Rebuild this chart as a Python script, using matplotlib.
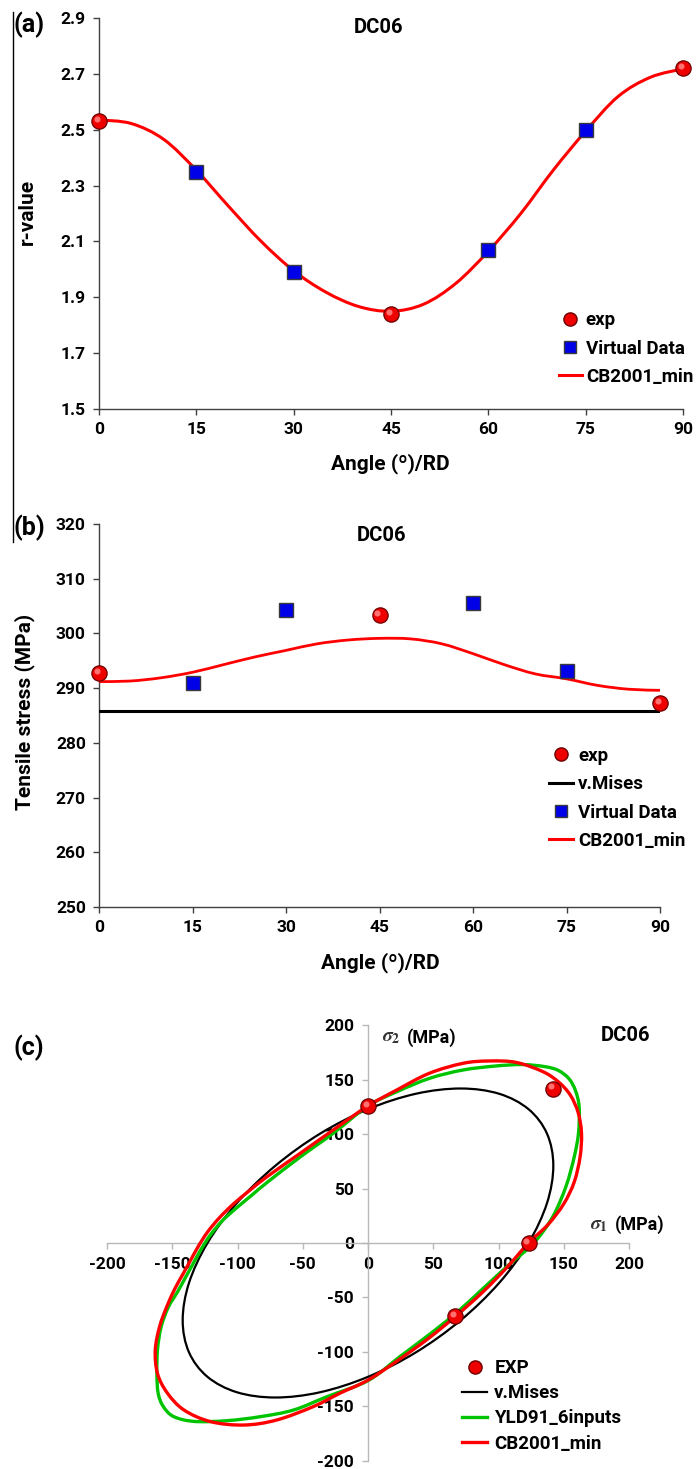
import numpy as np
import matplotlib
matplotlib.use("Agg")
import matplotlib.pyplot as plt
from matplotlib.path import Path
from matplotlib.patches import PathPatch
from matplotlib.lines import Line2D
from matplotlib.transforms import ScaledTranslation

plt.rcParams['font.family'] = ['Roboto', 'DejaVu Sans']
plt.rcParams['font.weight'] = 'bold'
plt.rcParams['mathtext.fontset'] = 'stix'
plt.rcParams['axes.unicode_minus'] = False

# ---------------- data ----------------
# (a) r-value vs angle
r_exp_ang = [0, 45, 90]
r_exp = [2.53, 1.84, 2.72]
r_virt_ang = [15, 30, 60, 75]
r_virt = [2.35, 1.99, 2.07, 2.50]
curve_ang = [0, 5, 10, 15, 20, 25, 30, 35, 40, 45, 50, 55, 60, 65, 70, 75, 80, 85, 90]
r_cb2001 = [2.535, 2.522, 2.465, 2.355, 2.225, 2.10, 1.995, 1.918, 1.867, 1.85,
            1.875, 1.95, 2.065, 2.2, 2.355, 2.495, 2.619, 2.688, 2.718]

# (b) tensile stress vs angle
s_exp_ang = [0, 45, 90]
s_exp = [292.7, 303.3, 287.3]
s_virt_ang = [15, 30, 60, 75]
s_virt = [291.0, 304.3, 305.6, 293.1]
s_mises = 285.8
s_cb2001 = [291.2, 291.3, 291.9, 292.9, 294.3, 295.7, 296.9, 298.1, 298.8, 299.1,
            299.0, 298.1, 296.3, 294.3, 292.6, 291.7, 290.5, 289.8, 289.6]

# (c) yield loci (sigma1, sigma2) in MPa
c_exp_s1 = [0, 142, 123, 67]
c_exp_s2 = [126, 142, 0, -67]
mises_locus = [(123, 0), (137.2, 36.8), (142, 71), (137.2, 100.4), (123, 123), (100.4, 137.2),
               (71, 142), (36.8, 137.2), (0, 123), (-36.7, 100.5), (-71, 71), (-100.5, 36.7),
               (-123, 0), (-137.2, -36.8), (-142, -71), (-137.2, -100.4), (-123, -123),
               (-100.4, -137.2), (-71, -142), (-36.8, -137.2), (0, -123), (36.7, -100.5),
               (71, -71), (100.5, -36.7)]
yld91_locus = [(127, 0), (141.5, 24), (151.7, 52), (158, 79), (161.3, 101), (161.8, 125),
               (159, 140), (154, 151), (146, 158.5), (136, 162), (118.6, 164), (98, 162.7),
               (72.8, 159), (47.3, 151.4), (22, 139), (0, 126), (-26.5, 101), (-52, 79),
               (-77, 56), (-89, 44), (-101, 32), (-112, 20), (-121, 7), (-128, -6),
               (-134, -19), (-140, -32), (-146, -45), (-153, -59), (-158.5, -77),
               (-161.3, -98), (-161.8, -120), (-160.8, -138), (-157, -150), (-149, -159.5),
               (-133, -164), (-108, -163.3), (-82.4, -159.6), (-57, -153.5), (-31.5, -141.3),
               (0, -126.5), (24.4, -104.5), (46, -85), (67, -65), (88, -42), (108, -20)]
cb2001_locus = [(123, 0), (138, 17), (150, 36), (158, 56), (162.5, 79), (163.6, 101),
                (161, 120), (155, 136), (146, 148), (134, 157.5), (113.5, 166), (93, 167.3),
                (73, 165.2), (47, 156), (22, 140.6), (0, 126), (-26.5, 104), (-52, 82.4),
                (-77.3, 61), (-90, 49), (-103, 36), (-114, 23), (-123, 10), (-130, -3),
                (-136, -16), (-142, -29), (-148, -42), (-154, -58), (-159.5, -76),
                (-163, -98), (-161.3, -120), (-153.7, -138), (-141, -153.5), (-120.6, -164.2),
                (-95, -167.3), (-70, -162.7), (-42, -150.4), (-21.4, -138), (0, -126),
                (24, -107), (46, -88), (67, -67.5), (88, -45), (106, -23)]

RED = '#ff0000'
BLUE = '#0000e8'
GREEN = '#00c400'


def catmull(p, closed):
    # smooth curve through the read points (like Excel "smoothed line")
    p = np.asarray(p, float)
    n = len(p)
    if not closed:
        p = np.vstack([p[0], p, p[-1]])
    verts = [p[0] if closed else p[1]]
    codes = [Path.MOVETO]
    rng = range(n) if closed else range(1, n)
    for i in rng:
        if closed:
            p0, p1, p2, p3 = p[i - 1], p[i], p[(i + 1) % n], p[(i + 2) % n]
        else:
            p0, p1, p2, p3 = p[i - 1], p[i], p[i + 1], p[i + 2]
        verts += [p1 + (p2 - p0) / 6, p2 - (p3 - p1) / 6, p2]
        codes += [Path.CURVE4] * 3
    return Path(verts, codes)


def spheres(ax, x, y, ms):
    ax.plot(x, y, 'o', ms=ms, mfc='#ee0000', mec='#6a0000', mew=0.9, ls='none',
            zorder=6, clip_on=False)
    hl = ax.transData + ScaledTranslation(-1.6 / 72, 1.6 / 72, ax.figure.dpi_scale_trans)
    ax.plot(x, y, 'o', ms=ms * 0.4, mfc='#ff7070', mec='none', ls='none',
            zorder=7, clip_on=False, transform=hl)


def squares(ax, x, y, ms):
    ax.plot(x, y, 's', ms=ms, mfc=BLUE, mec='#3a3a3a', mew=1.0, ls='none',
            zorder=6, clip_on=False)


def style_xy(ax):
    for s in ['top', 'right']:
        ax.spines[s].set_visible(False)
    for s in ['left', 'bottom']:
        ax.spines[s].set_color('#404040')
        ax.spines[s].set_linewidth(1.0)
    ax.tick_params(direction='out', length=4.5, width=1, color='#404040',
                   labelsize=12.5, pad=5)


sphere_h = Line2D([], [], marker='o', ms=9.5, mfc='#ee0000', mec='#6a0000', ls='none')
square_h = Line2D([], [], marker='s', ms=8.5, mfc=BLUE, mec='#3a3a3a', ls='none')

W, H = 696, 1469
fig = plt.figure(figsize=(W / 100, H / 100), dpi=100)

# ---------------- (a) ----------------
ax = fig.add_axes([99 / W, 1 - 409 / H, 584 / W, 391 / H])
ax.add_patch(PathPatch(catmull(list(zip(curve_ang, r_cb2001)), False), fill=False,
                       ec=RED, lw=2.2, zorder=4))
spheres(ax, r_exp_ang, r_exp, 11)
squares(ax, r_virt_ang, r_virt, 10.5)
ax.set_xlim(0, 90)
ax.set_ylim(1.5, 2.9)
ax.set_xticks(range(0, 91, 15))
ax.set_yticks(np.arange(1.5, 2.95, 0.2))
ax.set_yticklabels(['%.1f' % v for v in np.arange(1.5, 2.95, 0.2)])
style_xy(ax)
ax.text(0.479, 0.975, 'DC06', transform=ax.transAxes, ha='center', va='center', fontsize=14.5)
ax.legend([sphere_h, square_h, Line2D([], [], color=RED, lw=2.2)],
          ['exp', 'Virtual Data', 'CB2001_min'], loc='upper left',
          bbox_to_anchor=(0.787, 0.25), frameon=False, fontsize=13.5, borderpad=0,
          borderaxespad=0, handlelength=1.25, handletextpad=0.2, labelspacing=0.55)
fig.text(390 / W, 1 - 464 / H, 'Angle (º)/RD', ha='center', va='center', fontsize=15)
fig.text(27 / W, 1 - 212 / H, 'r-value', ha='center', va='center', rotation=90, fontsize=15)

# ---------------- (b) ----------------
ax = fig.add_axes([99 / W, 1 - 907 / H, 561 / W, 383 / H])
ax.add_patch(PathPatch(catmull(list(zip(curve_ang, s_cb2001)), False), fill=False,
                       ec=RED, lw=2.0, zorder=4))
ax.plot([0, 90], [s_mises, s_mises], color='black', lw=2.2, zorder=3)
spheres(ax, s_exp_ang, s_exp, 11)
squares(ax, s_virt_ang, s_virt, 10)
ax.set_xlim(0, 90)
ax.set_ylim(250, 320)
ax.set_xticks(range(0, 91, 15))
ax.set_yticks(range(250, 321, 10))
style_xy(ax)
ax.text(0.503, 0.971, 'DC06', transform=ax.transAxes, ha='center', va='center', fontsize=14.5)
ax.legend([sphere_h, Line2D([], [], color='black', lw=2.2), square_h,
           Line2D([], [], color=RED, lw=2.2)],
          ['exp', 'v.Mises', 'Virtual Data', 'CB2001_min'], loc='upper left',
          bbox_to_anchor=(0.802, 0.418), frameon=False, fontsize=13.5, borderpad=0,
          borderaxespad=0, handlelength=1.3, handletextpad=0.25, labelspacing=0.55)
fig.text(380 / W, 1 - 963 / H, 'Angle (º)/RD', ha='center', va='center', fontsize=15)
fig.text(25 / W, 1 - 712 / H, 'Tensile stress (MPa)', ha='center', va='center',
         rotation=90, fontsize=15)

# ---------------- (c) ----------------
ax = fig.add_axes([107 / W, 1 - 1460.6 / H, 522 / W, 435.2 / H])
ax.add_patch(PathPatch(catmull(mises_locus, True), fill=False, ec='black', lw=1.6, zorder=3))
ax.add_patch(PathPatch(catmull(yld91_locus, True), fill=False, ec=GREEN, lw=2.4, zorder=4))
ax.add_patch(PathPatch(catmull(cb2001_locus, True), fill=False, ec=RED, lw=2.4, zorder=5))
spheres(ax, c_exp_s1, c_exp_s2, 11)
ax.set_xlim(-200, 200)
ax.set_ylim(-200, 200)
ax.set_xticks(range(-200, 201, 50))
ax.set_yticks(range(-200, 201, 50))
for s in ['top', 'right']:
    ax.spines[s].set_visible(False)
for s in ['left', 'bottom']:
    ax.spines[s].set_position(('data', 0))
    ax.spines[s].set_color('#b8b8b8')
    ax.spines[s].set_linewidth(1.0)
ax.tick_params(direction='out', length=4, width=1, color='#b8b8b8', labelsize=12.5, pad=6)
ax.text(11, 189, r'$\sigma_2$', fontsize=14, va='center', ha='left', color='#333333')
ax.text(30, 189, '(MPa)', fontsize=13, va='center', ha='left')
ax.text(170, 16.5, r'$\sigma_1$', fontsize=14, va='center', ha='left', color='#333333')
ax.text(189, 16.5, '(MPa)', fontsize=13, va='center', ha='left')
ax.text(197, 191, 'DC06', fontsize=14.5, va='center', ha='center')
ax.legend([Line2D([], [], marker='o', ms=9.5, mfc='#ee0000', mec='#6a0000', ls='none'),
           Line2D([], [], color='black', lw=1.6), Line2D([], [], color=GREEN, lw=2.4),
           Line2D([], [], color=RED, lw=2.4)],
          ['EXP', 'v.Mises', 'YLD91_6inputs', 'CB2001_min'], loc='upper left',
          bbox_to_anchor=(0.681, 0.233), frameon=False, fontsize=13.5, borderpad=0,
          borderaxespad=0, handlelength=1.3, handletextpad=0.4, labelspacing=0.38)

# panel letters and the thin frame line on the left
fig.text(29 / W, 1 - 25 / H, '(a)', ha='center', va='center', fontsize=18)
fig.text(29 / W, 1 - 528 / H, '(b)', ha='center', va='center', fontsize=18)
fig.text(29 / W, 1 - 1048 / H, '(c)', ha='center', va='center', fontsize=18)
fig.add_artist(Line2D([13 / W, 13 / W], [1 - 12 / H, 1 - 542 / H], color='black', lw=1.0))

fig.savefig('out.png', dpi=100)
